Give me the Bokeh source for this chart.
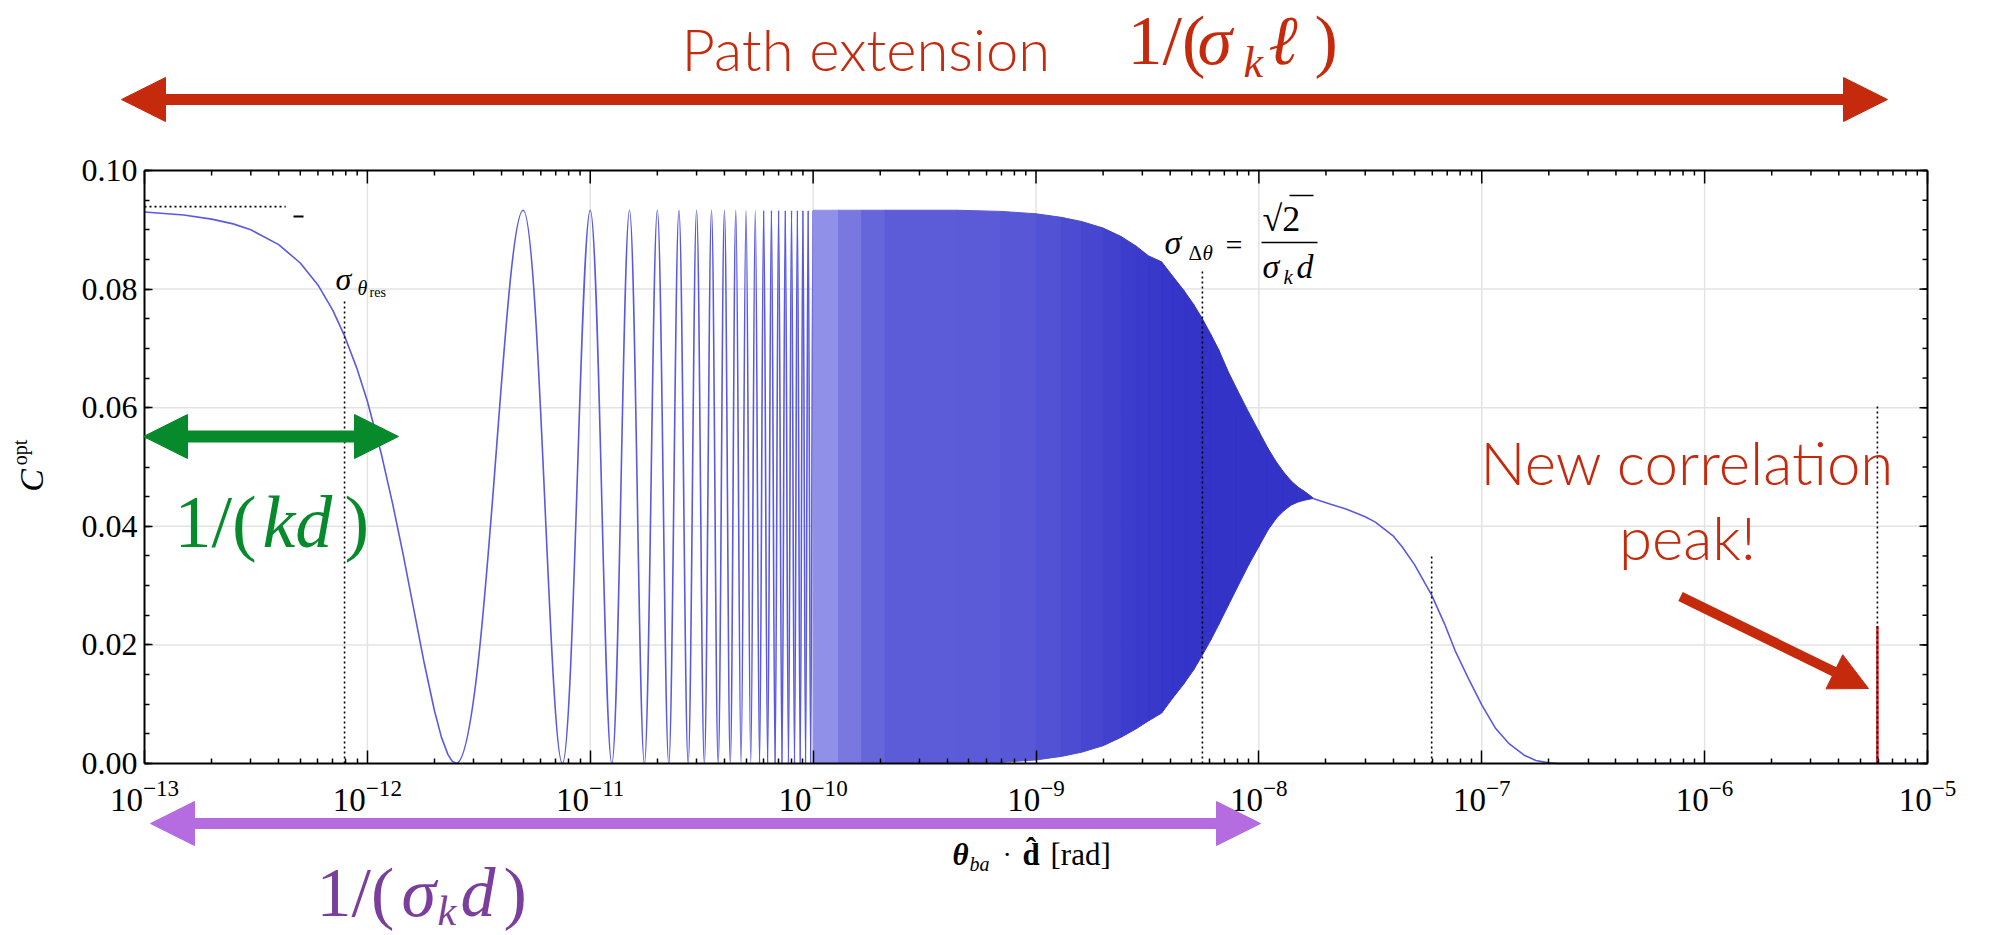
import math
from bokeh.plotting import figure
from bokeh.models import FixedTicker, Label, Arrow, NormalHead, PrintfTickFormatter, Range1d
from bokeh.embed import file_html
from bokeh.resources import INLINE

# ---------------- data ----------------
# opening half fringe: theta . d_hat [rad] -> C_opt
head_theta = [1.0e-13, 1.5e-13, 2.0e-13, 2.5e-13, 3.0e-13, 4.0e-13, 5.0e-13, 6.0e-13,
              7.0e-13, 7.9e-13, 9.0e-13, 1.0e-12, 1.15e-12, 1.3e-12, 1.45e-12, 1.6e-12,
              1.8e-12, 2.0e-12, 2.15e-12, 2.3e-12, 2.4e-12, 2.5e-12]
head_c = [0.0930, 0.0925, 0.0918, 0.0910, 0.0900, 0.0875, 0.0844, 0.0807,
          0.0764, 0.0721, 0.0665, 0.0611, 0.0525, 0.0437, 0.0351, 0.0268,
          0.0169, 0.0089, 0.0044, 0.0015, 0.0004, 0.0]

# resolved fringes: maxima and the zeros between them
fringe_peak_theta = [5.0e-12, 1.0e-11, 1.5e-11, 2.0e-11, 2.5e-11, 3.0e-11, 3.5e-11,
                     4.0e-11, 4.5e-11, 5.0e-11, 5.5e-11, 6.0e-11, 6.5e-11, 7.0e-11,
                     7.5e-11, 8.0e-11, 8.5e-11, 9.0e-11, 9.5e-11, 1.0e-10]
fringe_peak_c = [0.0933] * len(fringe_peak_theta)
fringe_zero_theta = [2.5e-12, 7.5e-12, 1.25e-11, 1.75e-11, 2.25e-11, 2.75e-11, 3.25e-11,
                     3.75e-11, 4.25e-11, 4.75e-11, 5.25e-11, 5.75e-11, 6.25e-11, 6.75e-11,
                     7.25e-11, 7.75e-11, 8.25e-11, 8.75e-11, 9.25e-11, 9.75e-11, 1.025e-10]

# unresolved fringes: envelope of the oscillation band
band_theta = [1.0e-10, 1.3e-10, 1.65e-10, 2.1e-10, 4.4e-10, 7.0e-10, 1.0e-9, 1.3e-9,
              1.6e-9, 2.0e-9, 2.4e-9, 2.8e-9, 3.2e-9, 3.66e-9, 4.1e-9, 4.6e-9, 5.1e-9,
              5.58e-9, 6.1e-9, 6.6e-9, 7.3e-9, 8.0e-9, 9.0e-9, 1.0e-8, 1.1e-8, 1.2e-8,
              1.3e-8, 1.4e-8, 1.5e-8, 1.6e-8, 1.75e-8]
band_upper = [0.0933, 0.0933, 0.0933, 0.0933, 0.0933, 0.0931, 0.0927, 0.0921,
              0.0914, 0.0903, 0.0889, 0.0873, 0.0856, 0.0846, 0.0822, 0.0798, 0.0774,
              0.0750, 0.0723, 0.0698, 0.0660, 0.0630, 0.0592, 0.0560, 0.0531, 0.0508,
              0.0490, 0.0476, 0.0466, 0.0459, 0.0448]
band_lower = [0.0, 0.0, 0.0, 0.0, 0.0, 0.0002, 0.0006, 0.0012,
              0.0019, 0.0030, 0.0044, 0.0058, 0.0072, 0.0085, 0.0110, 0.0134, 0.0158,
              0.0183, 0.0209, 0.0234, 0.0267, 0.0297, 0.0335, 0.0366, 0.0394, 0.0414,
              0.0427, 0.0436, 0.0441, 0.0444, 0.0447]
band_shades = ["#9090e8", "#7878e0", "#6666db", "#5c5cd8", "#5b5bd7", "#5858d6",
               "#5252d4", "#4c4cd2", "#4646d0", "#4141ce", "#3d3dcd", "#3a3acc",
               "#3838cb", "#3636ca", "#3535ca", "#3434c9", "#3434c9", "#3333c8",
               "#3333c8", "#3333c8", "#3333c8", "#3333c8", "#3333c8", "#3333c8",
               "#3333c8", "#3333c8", "#3333c8", "#3333c8", "#3333c8", "#3333c8"]

# smooth decay after the band closes
tail_theta = [1.75e-8, 2.1e-8, 2.46e-8, 3.0e-8, 3.33e-8, 4.0e-8, 4.4e-8, 5.0e-8, 5.96e-8,
              6.8e-8, 7.6e-8, 8.8e-8, 1.0e-7, 1.15e-7, 1.33e-7, 1.55e-7, 1.75e-7,
              2.0e-7, 2.2e-7, 1.0e-5]
tail_c = [0.0447, 0.0437, 0.0429, 0.0416, 0.0407, 0.0384, 0.0365, 0.0335, 0.0284,
          0.0236, 0.0190, 0.0140, 0.0099, 0.0060, 0.0033, 0.0014, 0.0005,
          0.0001, 0.0, 0.0]

# new correlation peak
peak_theta = [5.955e-6, 5.96e-6, 5.965e-6]
peak_c = [0.0, 0.0232, 0.0]

# dotted markers
marker_theta = [7.9e-13, 5.58e-9, 5.96e-8, 5.96e-6]
marker_top = [0.0781, 0.0830, 0.0351, 0.0603]
plateau_level = 0.0939
plateau_end = 4.3e-13

x_lo, x_hi = 1e-13, 1e-5
y_lo, y_hi = 0.0, 0.10
x_major = [1e-13, 1e-12, 1e-11, 1e-10, 1e-9, 1e-8, 1e-7, 1e-6, 1e-5]
x_minor = [m * d for d in x_major[:-1] for m in range(2, 10)]
y_major = [0.0, 0.02, 0.04, 0.06, 0.08, 0.10]
y_minor = [i * 0.005 for i in range(21)]

# ---------------- layout ----------------
W, H = 1989, 935
L, R, T, B = 144, 1927, 170, 763
DEC = (R - L) / 8.0
PY = (y_hi - y_lo) / (B - T)          # data units per pixel (y)


def dx(px):
    return 10 ** (-13 + (px - L) / DEC)


def dy(py):
    return (B - py) * PY


RED = "#c62a0c"
GREEN = "#078a2b"
LILAC = "#b46ce0"
PURPLE = "#7a3e9d"
BLUE = "#5a5ae0"
SERIF = "Liberation Serif"
SANS = "Lato Light, Lato"

# the frame covers the whole canvas so the slide annotations around the axes stay visible
p = figure(width=W, height=H, x_axis_type="log", output_backend="svg",
           toolbar_location=None, x_range=Range1d(dx(0), dx(W)),
           y_range=Range1d(dy(H), dy(0)), min_border=0)
p.background_fill_color = "white"
p.border_fill_color = "white"
p.outline_line_color = None
p.grid.visible = False

xt = FixedTicker(ticks=x_major, minor_ticks=x_minor)
yt = FixedTicker(ticks=y_major, minor_ticks=y_minor)

xa = p.below[0]
ya = p.left[0]
xa.ticker = xt
ya.ticker = yt
ya.formatter = PrintfTickFormatter(format="%.2f")
xa.fixed_location = y_lo
xa.bounds = (x_lo, x_hi)
ya.fixed_location = x_lo
ya.bounds = (y_lo, y_hi)
for ax in (xa, ya):
    ax.axis_line_width = 2
    ax.axis_line_color = "black"
    ax.major_tick_out = 0
    ax.minor_tick_in = 5
    ax.minor_tick_out = 0
    ax.major_tick_line_width = 1.5
    ax.minor_tick_line_width = 1.5
    ax.major_label_text_font = SERIF
    ax.major_label_text_color = "black"
xa.major_tick_in = 13
ya.major_tick_in = 8
xa.major_label_text_font_size = "33px"
xa.major_label_standoff = 16
ya.major_label_text_font_size = "32px"
ya.major_label_standoff = 7

# grid lines at the major ticks
gx = x_major[1:-1]
gy = y_major[1:-1]
p.segment(x0=gx, y0=[y_lo] * len(gx), x1=gx, y1=[y_hi] * len(gx),
          line_color="#e3e3e3", line_width=1.5)
p.segment(x0=[x_lo] * len(gy), y0=gy, x1=[x_hi] * len(gy), y1=gy,
          line_color="#e3e3e3", line_width=1.5)

# ---------------- curve ----------------
p.line(head_theta, head_c, line_color=BLUE, line_width=1.6)

A = 0.364
bx0, by0, bx1, by1, bcx0, bcy0, bcx1, bcy1 = ([] for _ in range(8))
for i, (tp, cp) in enumerate(zip(fringe_peak_theta, fringe_peak_c)):
    zl, zr = fringe_zero_theta[i], fringe_zero_theta[i + 1]
    # rising flank
    bx0.append(zl); by0.append(0.0); bx1.append(tp); by1.append(cp)
    bcx0.append(zl + A * (tp - zl)); bcy0.append(0.0)
    bcx1.append(tp - A * (tp - zl)); bcy1.append(cp)
    # falling flank
    bx0.append(tp); by0.append(cp); bx1.append(zr); by1.append(0.0)
    bcx0.append(tp + A * (zr - tp)); bcy0.append(cp)
    bcx1.append(zr - A * (zr - tp)); bcy1.append(0.0)
p.bezier(x0=bx0, y0=by0, x1=bx1, y1=by1, cx0=bcx0, cy0=bcy0, cx1=bcx1, cy1=bcy1,
         line_color=BLUE, line_width=1.6)

# oscillation band, shaded piece by piece between the envelope readings
band_xs = [[band_theta[i], band_theta[i + 1], band_theta[i + 1], band_theta[i]]
           for i in range(len(band_theta) - 1)]
band_ys = [[band_lower[i], band_lower[i + 1], band_upper[i + 1], band_upper[i]]
           for i in range(len(band_theta) - 1)]
p.patches(xs=band_xs, ys=band_ys, fill_color=band_shades, line_color=band_shades,
          line_width=1)

p.line(tail_theta, tail_c, line_color=BLUE, line_width=1.6)
p.line(peak_theta, peak_c, line_color="#d62828", line_width=2.5)

# dotted markers
p.segment(x0=marker_theta, y0=[0.0] * len(marker_theta), x1=marker_theta, y1=marker_top,
          line_color="black", line_width=1.6, line_dash="2 3")
p.segment(x0=[x_lo], y0=[plateau_level], x1=[plateau_end], y1=[plateau_level],
          line_color="black", line_width=1.6, line_dash="2 3")
p.segment(x0=[dx(293)], y0=[dy(216)], x1=[dx(303)], y1=[dy(216)],
          line_color="black", line_width=2)

# closing box edges with mirrored inward ticks
p.segment(x0=[x_lo, x_hi], y0=[y_hi, y_lo], x1=[x_hi, x_hi], y1=[y_hi, y_hi],
          line_color="black", line_width=2)
p.segment(x0=x_major, y0=[y_hi] * len(x_major), x1=x_major,
          y1=[y_hi - 13 * PY] * len(x_major), line_color="black", line_width=1.5)
p.segment(x0=x_minor, y0=[y_hi] * len(x_minor), x1=x_minor,
          y1=[y_hi - 5 * PY] * len(x_minor), line_color="black", line_width=1.5)
p.segment(x0=[x_hi] * len(y_major), y0=y_major, x1=[dx(R - 8)] * len(y_major),
          y1=y_major, line_color="black", line_width=1.5)
p.segment(x0=[x_hi] * len(y_minor), y0=y_minor, x1=[dx(R - 5)] * len(y_minor),
          y1=y_minor, line_color="black", line_width=1.5)

# vertical offset of the alphabetic baseline in this renderer, per px of font size
BASE_SHIFT = 0.28


def lab(text, px, py, size, color="black", font=SERIF, style="normal",
        align="left", baseline="alphabetic", angle=0.0):
    if baseline == "alphabetic":
        py = py - BASE_SHIFT * size
    p.add_layout(Label(x=dx(px), y=dy(py), text=text, text_font_size=f"{size}px",
                       text_color=color, text_font=font, text_font_style=style,
                       text_align=align, text_baseline=baseline, angle=angle))


# sigma_theta_res
lab("σ", 335, 287, 32, style="italic")
lab("θ", 357, 293, 20, style="italic")
lab("res", 369, 296, 14)

# sigma_delta_theta = sqrt(2) / (sigma_k d)
p.segment(x0=[dx(1261), dx(1289)], y0=[dy(242), dy(195)], x1=[dx(1317), dx(1313)],
          y1=[dy(242), dy(195)], line_color="black", line_width=1.6)
lab("σ", 1164, 252, 34, style="italic")
lab("Δ", 1188, 258, 21)
lab("θ", 1202, 258, 21, style="italic")
lab("=", 1225, 252, 30)
lab("√2", 1262, 229, 36)
lab("σ", 1262, 276, 34, style="italic")
lab("k", 1283, 282, 21, style="italic")
lab("d", 1296, 276, 34, style="italic")

# axis titles
lab("C", 31, 480, 34, style="italic", align="center", baseline="middle", angle=math.pi / 2)
lab("opt", 19, 452, 20, align="center", baseline="middle", angle=math.pi / 2)
lab("θ", 952, 863, 31, style="bold italic")
lab("ba", 969, 869, 20, style="italic")
lab("·", 1002, 862, 28)
lab("d̂", 1022, 863, 31, style="bold")
lab("[rad]", 1050, 863, 31)

# path extension
p.add_layout(Arrow(x_start=dx(121), y_start=dy(99), x_end=dx(1887), y_end=dy(99),
                   line_color=RED, line_width=11,
                   start=NormalHead(size=44, fill_color=RED, line_color=RED),
                   end=NormalHead(size=44, fill_color=RED, line_color=RED)))
lab("Path extension", 681, 64, 58, color=RED, font=SANS)
lab("1/(", 1127, 60, 70, color=RED)
lab("σ", 1197, 60, 70, color=RED, style="italic")
lab("k", 1243, 74, 44, color=RED, style="italic")
lab("ℓ", 1268, 60, 70, color=RED, style="italic")
lab(")", 1314, 60, 70, color=RED)

# 1/(kd)
p.add_layout(Arrow(x_start=dx(143), y_start=dy(436), x_end=dx(398), y_end=dy(436),
                   line_color=GREEN, line_width=12,
                   start=NormalHead(size=44, fill_color=GREEN, line_color=GREEN),
                   end=NormalHead(size=44, fill_color=GREEN, line_color=GREEN)))
lab("1/(", 174, 542, 74, color=GREEN)
lab("kd", 262, 542, 74, color=GREEN, style="italic")
lab(")", 344, 542, 74, color=GREEN)

# 1/(sigma_k d)
p.add_layout(Arrow(x_start=dx(150), y_start=dy(823), x_end=dx(1260), y_end=dy(823),
                   line_color=LILAC, line_width=11,
                   start=NormalHead(size=44, fill_color=LILAC, line_color=LILAC),
                   end=NormalHead(size=44, fill_color=LILAC, line_color=LILAC)))
lab("1/(", 316, 912, 70, color=PURPLE)
lab("σ", 401, 912, 70, color=PURPLE, style="italic")
lab("k", 437, 922, 42, color=PURPLE, style="italic")
lab("d", 460, 912, 70, color=PURPLE, style="italic")
lab(")", 503, 912, 70, color=PURPLE)

# new correlation peak
lab("New correlation", 1687, 478, 60, color=RED, font=SANS, align="center")
lab("peak!", 1687, 553, 60, color=RED, font=SANS, align="center")
p.add_layout(Arrow(x_start=dx(1680), y_start=dy(596), x_end=dx(1868), y_end=dy(688),
                   line_color=RED, line_width=10,
                   end=NormalHead(size=38, fill_color=RED, line_color=RED)))

open("out.html", "w").write(file_html(p, INLINE))
